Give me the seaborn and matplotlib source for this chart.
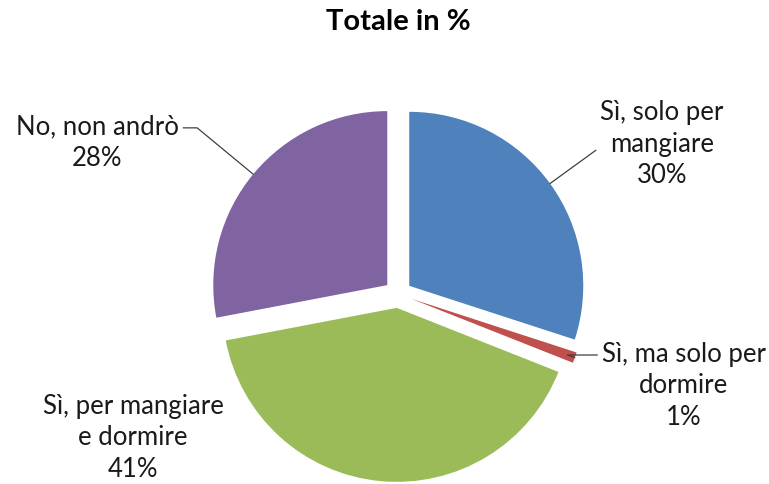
import matplotlib
matplotlib.use("Agg")
import numpy as np
import matplotlib.pyplot as plt
import seaborn as sns

# ────────── data ───────────────────────────────────────────────────────────────
categories = ["Sì, solo per\nmangiare", "Sì, ma solo per\ndormire",
              "Sì, per mangiare\ne dormire", "No, non andrò"]
shares = [30, 1, 41, 28]
colors = ["#4F81BD", "#C0504D", "#9BBB59", "#8064A2"]

# ────────── layout (pixels in the 769x485 canvas) ─────────────────────────────
W, H = 769, 485
CX, CY, R = 398, 295, 174
FS = 18.5
LS = 1.33


def px(x, y):
    """pixel position -> data coords (pie radius = 1)."""
    return (x - CX) / R, (CY - y) / R


sns.set_theme(style="white")
plt.rcParams["font.family"] = ["Lato", "DejaVu Sans"]

fig = plt.figure(figsize=(W / 100, H / 100), dpi=100)
ax = fig.add_axes([0, 0, 1, 1])

wedges, _ = ax.pie(
    shares,
    colors=colors,
    startangle=90,
    counterclock=False,
    explode=[0.08] * len(shares),
    wedgeprops=dict(linewidth=0),
)

ax.set_xlim(-CX / R, (W - CX) / R)
ax.set_ylim(-(H - CY) / R, CY / R)
ax.set_aspect("auto")
ax.axis("off")

# label placement: (text centre in px, relpos of leader on text bbox or None)
label_pos = [((662, 144), (0.0, 0.5)),
             ((684, 386), (0.0, 0.84)),
             ((133, 438), None),
             ((97, 143), (1.0, 0.75))]

for w, cat, val, (tp, rel) in zip(wedges, categories, shares, label_pos):
    txt = f"{cat}\n{val}%"
    xt, yt = px(*tp)
    if rel is None:
        ax.text(xt, yt, txt, ha="center", va="center", fontsize=FS,
                color="#1a1a1a", linespacing=LS)
        continue
    mid = np.deg2rad((w.theta1 + w.theta2) / 2)
    cx, cy = w.center
    xy = (cx + w.r * np.cos(mid), cy + w.r * np.sin(mid))
    ax.annotate(
        txt, xy=xy, xytext=(xt, yt), ha="center", va="center",
        fontsize=FS, color="#1a1a1a", linespacing=LS,
        arrowprops=dict(arrowstyle="-", color="#404040", lw=0.9,
                        shrinkA=1, shrinkB=0, relpos=rel,
                        connectionstyle=f"angle,angleA=0,angleB={np.rad2deg(mid):.1f},rad=0"),
    )

fig.text(398 / W, 1 - 22 / H, "Totale in %", ha="center", va="center",
         fontsize=21, fontweight="bold", color="black")

fig.savefig("out.png", dpi=100, facecolor="white")
